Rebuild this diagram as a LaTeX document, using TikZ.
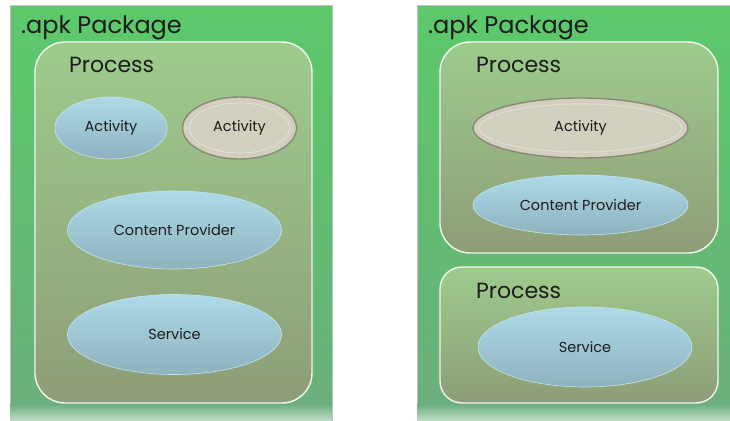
\documentclass[tikz,border=0pt]{standalone}
\usepackage{fontspec}
\setmainfont{Poppins}
\usetikzlibrary{shapes.geometric}

\definecolor{pkgtop}{HTML}{5CC96B}
\definecolor{pkgmid}{HTML}{62BC72}
\definecolor{pkgbot}{HTML}{6CAE7D}
\definecolor{proctop}{HTML}{9ECB8C}
\definecolor{procbot}{HTML}{8E9D78}
\definecolor{blutop}{HTML}{AEDAE8}
\definecolor{blubot}{HTML}{8DB2BE}
\definecolor{greyfill}{HTML}{D3CFBE}
\definecolor{greyrim}{HTML}{8C8879}
\definecolor{inktext}{HTML}{1C1C1C}

\tikzset{
  package/.style={draw=black!25, line width=0.6pt, top color=pkgtop, bottom color=pkgbot,
    middle color=pkgmid, rectangle, anchor=north west, inner sep=0pt},
  procbox/.style={draw=white!85!proctop, line width=1.4pt, rounded corners=30pt,
    top color=proctop, bottom color=procbot, rectangle, inner sep=0pt},
  bigtitle/.style={anchor=base west, text=inktext, font=\fontsize{24}{28}\selectfont, inner sep=0pt},
  proctitle/.style={anchor=base west, text=inktext, font=\fontsize{22}{26}\selectfont, inner sep=0pt},
  complabel/.style={text=inktext, font=\fontsize{14.5}{17}\selectfont},
  compblue/.style={ellipse, draw=blutop!70!white, line width=0.6pt, top color=blutop,
    bottom color=blubot, inner sep=0pt, complabel},
  compgrey/.style={ellipse, draw=greyrim, line width=1.4pt, fill=greyfill, inner sep=0pt},
  greyinner/.style={ellipse, draw=white!75!greyrim, line width=0.7pt, inner sep=0pt, complabel},
  bottomfade/.style={top color=pkgbot, bottom color=pkgbot!45!white}
}

\begin{document}
\begin{tikzpicture}[x=1pt, y=-1pt]
\useasboundingbox (0,0) rectangle (730,420);
\fill[white] (0,0) rectangle (730,420);

% ---------- left package: one process holding everything ----------
\node[package, minimum width=322pt, minimum height=420pt] (pkgA) at (10,5) {};
\shade[bottomfade] (10.3,404) rectangle (331.7,420);
\node[bigtitle] (pkgAtitle) at (21,34) {.apk Package};

\node[procbox, minimum width=277pt, minimum height=361pt] (procA) at (173.5,222.5) {};
\node[proctitle] (procAtitle) at (69,73) {Process};

\node[compblue, minimum width=112pt, minimum height=62pt] (actA1) at (111,128) {Activity};
\node[compgrey, minimum width=114pt, minimum height=62pt] (actA2) at (239.5,128) {};
\node[greyinner, minimum width=100pt, minimum height=50pt] (actA2in) at (239.5,128) {Activity};
\node[compblue, minimum width=214pt, minimum height=78pt] (cpA) at (174.5,230) {Content Provider};
\node[compblue, minimum width=214pt, minimum height=80pt] (svcA) at (174.5,334.5) {Service};

% ---------- right package: two processes ----------
\node[package, minimum width=314pt, minimum height=420pt] (pkgB) at (417,5) {};
\shade[bottomfade] (417.3,404) rectangle (730,420);
\node[bigtitle] (pkgBtitle) at (428,34) {.apk Package};

\node[procbox, minimum width=278pt, minimum height=211pt] (procB1) at (579,147.5) {};
\node[proctitle] (procB1title) at (476,72) {Process};

\node[compgrey, minimum width=215pt, minimum height=60pt] (actB) at (580.5,128) {};
\node[greyinner, minimum width=202pt, minimum height=48pt] (actBin) at (580.5,128) {Activity};
\node[compblue, minimum width=215pt, minimum height=60pt] (cpB) at (580.5,205) {Content Provider};

\node[procbox, minimum width=278pt, minimum height=136pt, rounded corners=22pt] (procB2) at (579,335) {};
\node[proctitle] (procB2title) at (476,298) {Process};
\node[compblue, minimum width=214pt, minimum height=80pt] (svcB) at (585,347) {Service};
\end{tikzpicture}
\end{document}
